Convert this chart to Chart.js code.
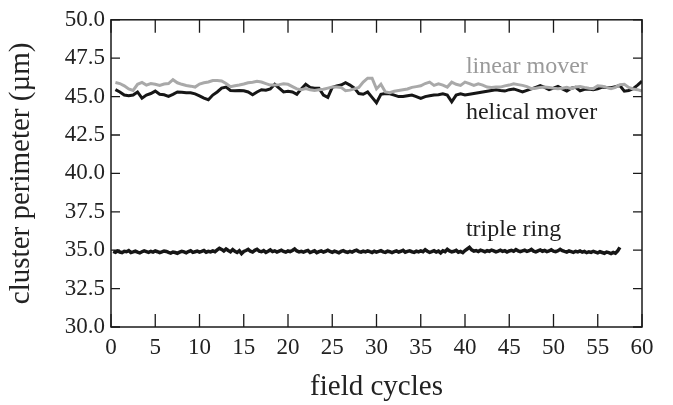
<!DOCTYPE html>
<html>
<head>
<meta charset="utf-8">
<script src="https://cdn.jsdelivr.net/npm/chart.js@4"></script>
<style>
  html, body { margin: 0; padding: 0; background: #fff; }
  #wrap { width: 673px; height: 405px; }
</style>
</head>
<body>
<div id="wrap"><canvas id="perimeterChart" width="673" height="405"></canvas></div>
<script>
// x axis range / ticks
const xTicks = [0, 5, 10, 15, 20, 25, 30, 35, 40, 45, 50, 55, 60];
const yTicks = [30.0, 32.5, 35.0, 37.5, 40.0, 42.5, 45.0, 47.5, 50.0];

// movers sampled every half field cycle, starting at 0.5
const moverStep = 0.5;
const linearMover = [
    45.92, 45.85, 45.70, 45.50, 45.40, 45.80, 45.92, 45.75, 45.85, 45.80,
    45.72, 45.82, 45.85, 46.10, 45.90, 45.80, 45.72, 45.68, 45.62, 45.82,
    45.90, 45.95, 46.05, 46.05, 46.02, 45.85, 45.65, 45.70, 45.75, 45.82,
    45.90, 45.94, 46.00, 45.95, 45.85, 45.75, 45.75, 45.78, 45.83, 45.80,
    45.65, 45.50, 45.45, 45.52, 45.45, 45.40, 45.45, 45.48, 45.55, 45.62,
    45.62, 45.60, 45.38, 45.42, 45.50, 45.60, 45.95, 46.20, 46.20,
    45.50, 45.80, 45.30, 45.25, 45.35, 45.40, 45.45, 45.50, 45.60, 45.65,
    45.70, 45.85, 45.94, 45.73, 45.83, 45.75, 45.62, 45.94, 45.80, 45.73,
    45.94, 45.85, 45.73, 45.83, 45.75, 45.62, 45.60, 45.62, 45.62, 45.70,
    45.75, 45.83, 45.78, 45.73, 45.65, 45.52, 45.55, 45.60, 45.62, 45.60,
    45.55, 45.51, 45.55, 45.60, 45.52, 45.62, 45.66, 45.60, 45.55, 45.52,
    45.70, 45.68, 45.60, 45.52, 45.60, 45.78, 45.80, 45.60, 45.50, 45.45,
    45.36
];
const helicalMover = [
    45.45, 45.30, 45.10, 45.05, 45.10, 45.30, 44.90, 45.10, 45.20, 45.36,
    45.15, 45.12, 45.02, 45.15, 45.30, 45.28, 45.25, 45.25, 45.18, 45.05,
    44.90, 44.80, 45.10, 45.30, 45.55, 45.62, 45.40, 45.38, 45.40, 45.38,
    45.30, 45.12, 45.30, 45.45, 45.42, 45.50, 45.80, 45.55, 45.30, 45.35,
    45.30, 45.15, 45.50, 45.80, 45.60, 45.55, 45.55, 45.10, 44.95, 45.60,
    45.70, 45.75, 45.90, 45.75, 45.55, 45.20, 45.15, 45.30, 44.95,
    44.60, 45.15, 45.20, 45.18, 45.10, 45.00, 45.00, 45.05, 45.10, 45.00,
    44.88, 45.00, 45.05, 45.10, 45.12, 45.18, 45.10, 44.66, 45.10, 45.18,
    45.10, 45.15, 45.20, 45.25, 45.30, 45.35, 45.40, 45.45, 45.40, 45.36,
    45.45, 45.50, 45.40, 45.30, 45.40, 45.50, 45.60, 45.72, 45.60, 45.45,
    45.55, 45.66, 45.50, 45.36, 45.55, 45.60, 45.38, 45.48, 45.50, 45.45,
    45.50, 45.62, 45.60, 45.58, 45.65, 45.72, 45.35, 45.40, 45.52, 45.75,
    46.00
];

// triple ring sampled every quarter cycle, starting at 0.25
const ringStep = 0.25;
const tripleRing = [
    34.92, 34.86, 34.95, 34.88, 34.84, 34.93, 34.90, 34.97, 34.85, 34.89, 34.94, 34.87, 34.82, 34.90, 34.96, 34.91, 34.86, 34.93, 34.88, 34.95,
    34.90, 34.84, 34.89, 34.95, 34.92, 34.86, 34.81, 34.88, 34.85, 34.80, 34.87, 34.93, 34.89, 34.83, 34.91, 34.97, 34.86, 34.90, 34.94, 34.88,
    34.92, 34.98, 34.87, 34.93, 34.89, 34.96, 34.90, 35.02, 35.12, 35.05, 34.95, 35.08, 34.98, 34.90, 35.04, 34.93, 34.85, 34.97, 34.78, 34.92,
    34.98, 35.05, 34.93, 34.88, 34.99, 35.06, 34.94, 34.90, 34.97, 34.86, 34.93, 35.02, 34.91, 34.96, 34.88, 34.94, 35.00, 34.92, 34.87, 34.95,
    34.91, 34.98, 35.08, 34.95, 34.89, 34.93, 34.87, 34.94, 34.98, 34.85, 34.90, 34.96, 34.84, 34.91, 34.95, 34.88, 34.93, 35.00, 34.92, 34.86,
    34.94, 34.89, 34.83, 34.92, 34.97, 34.90, 34.86, 34.93, 34.88, 34.95, 35.00, 34.91, 34.87, 34.94, 34.89, 34.96, 34.90, 34.85, 34.93, 34.88,
    34.92, 34.97, 34.89, 34.86, 34.94, 34.90, 34.84, 34.91, 34.95, 34.88, 34.93, 34.99, 34.87, 34.92, 34.96, 34.90, 34.86, 34.94, 34.89, 34.95,
    34.90, 35.03, 34.93, 34.86, 34.91, 34.97, 34.88, 34.94, 34.82, 34.96, 34.90, 35.06, 34.95, 34.89, 34.93, 34.99, 34.87, 34.92, 34.84, 34.98,
    35.08, 35.18, 35.02, 34.94, 34.98, 34.91, 35.00, 34.95, 34.90, 34.97, 34.93, 35.01, 34.96, 34.89, 34.94, 35.00, 34.92, 34.97, 34.88, 34.95,
    34.99, 34.93, 35.04, 34.96, 34.90, 34.95, 35.00, 34.92, 34.97, 35.05, 34.94, 34.89, 34.96, 35.02, 34.93, 34.98, 34.91, 34.95, 35.03, 34.94,
    34.90, 34.96, 35.06, 34.97, 34.92, 34.88, 34.95, 34.91, 34.86, 34.93, 34.89, 34.95, 34.87, 34.92, 34.84, 34.90, 34.86, 34.93, 34.88, 34.83,
    34.90, 34.85, 34.80, 34.88, 34.84, 34.78, 34.86, 34.80, 34.95, 35.18
];

// curve labels, placed in data units
const curveLabels = ['linear mover', 'helical mover', 'triple ring'];
const labelCycles = [40.1, 40.1, 40.1];
const labelValues = [46.92, 43.95, 36.35];
const labelColors = ['#9a9a9a', '#1e1e1e', '#1e1e1e'];

function toPoints(values, start, step) {
    return values.map((v, i) => ({ x: start + i * step, y: v }));
}

const SERIF = '"Liberation Serif", "Times New Roman", serif';

// draws the closed frame with inward ticks on all four sides, plus curve labels
const framePlugin = {
    id: 'frame',
    afterDatasetsDraw(chart) {
        const { ctx, chartArea: a, scales } = chart;
        ctx.save();
        ctx.strokeStyle = '#1a1a1a';
        ctx.lineWidth = 1.5;
        ctx.strokeRect(a.left, a.top, a.right - a.left, a.bottom - a.top);

        ctx.lineWidth = 1.3;
        ctx.beginPath();
        xTicks.forEach(t => {
            const px = scales.x.getPixelForValue(t);
            ctx.moveTo(px, a.bottom); ctx.lineTo(px, a.bottom - 13);
            ctx.moveTo(px, a.top); ctx.lineTo(px, a.top + 13);
        });
        yTicks.forEach(t => {
            const py = scales.y.getPixelForValue(t);
            ctx.moveTo(a.left, py); ctx.lineTo(a.left + 9, py);
            ctx.moveTo(a.right, py); ctx.lineTo(a.right - 9, py);
        });
        ctx.stroke();

        ctx.font = '24px ' + SERIF;
        ctx.textAlign = 'left';
        ctx.textBaseline = 'middle';
        curveLabels.forEach((txt, i) => {
            ctx.fillStyle = labelColors[i];
            ctx.fillText(txt, scales.x.getPixelForValue(labelCycles[i]), scales.y.getPixelForValue(labelValues[i]));
        });
        ctx.restore();
    }
};

const ctx = document.getElementById('perimeterChart').getContext('2d');
new Chart(ctx, {
    type: 'line',
    data: {
        datasets: [
            {
                label: 'linear mover',
                data: toPoints(linearMover, moverStep, moverStep),
                borderColor: '#a9a9a9',
                borderWidth: 3,
                pointRadius: 0,
                tension: 0
            },
            {
                label: 'helical mover',
                data: toPoints(helicalMover, moverStep, moverStep),
                borderColor: '#161616',
                borderWidth: 3,
                pointRadius: 0,
                tension: 0
            },
            {
                label: 'triple ring',
                data: toPoints(tripleRing, ringStep, ringStep),
                borderColor: '#161616',
                borderWidth: 3.5,
                pointRadius: 0,
                tension: 0
            }
        ]
    },
    options: {
        responsive: false,
        animation: false,
        events: [],
        layout: { padding: { top: 15, right: 31, left: 0, bottom: 0 } },
        plugins: {
            legend: { display: false },
            tooltip: { enabled: false }
        },
        scales: {
            x: {
                type: 'linear',
                min: 0,
                max: 60,
                afterBuildTicks: s => { s.ticks = xTicks.map(v => ({ value: v })); },
                afterFit: s => { s.height = 78; },
                grid: { display: false, drawTicks: false },
                border: { display: false },
                ticks: {
                    color: '#222',
                    padding: 7,
                    maxRotation: 0,
                    font: { family: SERIF, size: 23 }
                },
                title: {
                    display: true,
                    text: 'field cycles',
                    color: '#222',
                    padding: { top: 2, bottom: 0 },
                    font: { family: SERIF, size: 29 }
                }
            },
            y: {
                min: 30,
                max: 50,
                afterBuildTicks: s => { s.ticks = yTicks.map(v => ({ value: v })); },
                afterFit: s => { s.width = 111; },
                grid: { display: false, drawTicks: false },
                border: { display: false },
                ticks: {
                    color: '#222',
                    padding: 6,
                    font: { family: SERIF, size: 23 },
                    callback: v => Number(v).toFixed(1)
                },
                title: {
                    display: true,
                    text: 'cluster perimeter (µm)',
                    color: '#222',
                    padding: { top: 4, bottom: 0 },
                    font: { family: SERIF, size: 29 }
                }
            }
        }
    },
    plugins: [framePlugin]
});
</script>
</body>
</html>
